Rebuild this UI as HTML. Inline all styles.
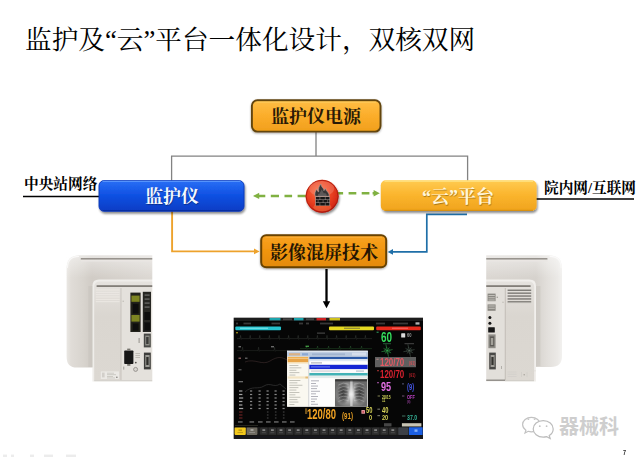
<!DOCTYPE html>
<html lang="zh"><head><meta charset="utf-8"><title>监护及“云”平台一体化设计，双核双网</title>
<style>
html,body{margin:0;padding:0;background:#fff;}
body{width:640px;height:457px;position:relative;overflow:hidden;font-family:"Liberation Sans",sans-serif;}
svg{position:absolute;left:0;top:0;display:block}
.t{position:absolute;color:#000;white-space:nowrap;margin:0;line-height:1;font-family:"Liberation Serif","Noto Serif CJK SC",serif;}
.n{font-family:"Liberation Sans",sans-serif;font-weight:bold;margin-top:.06em;transform:scaleX(.7);transform-origin:0 50%}
</style></head><body>
<svg width="640" height="457" viewBox="0 0 640 457">

<defs>
<linearGradient id="gOr" x1="0" y1="0" x2="0" y2="1">
 <stop offset="0" stop-color="#ffbe45"/><stop offset="0.5" stop-color="#fbad2a"/><stop offset="1" stop-color="#f19f1c"/>
</linearGradient>
<linearGradient id="gOr2" x1="0" y1="0" x2="0" y2="1">
 <stop offset="0" stop-color="#f9a322"/><stop offset="0.5" stop-color="#f0950f"/><stop offset="1" stop-color="#e38a08"/>
</linearGradient>
<linearGradient id="gBl" x1="0" y1="0" x2="0" y2="1">
 <stop offset="0" stop-color="#2a6ff5"/><stop offset="0.45" stop-color="#1152e4"/><stop offset="1" stop-color="#0a3cc4"/>
</linearGradient>
<linearGradient id="gYe" x1="0" y1="0" x2="0" y2="1">
 <stop offset="0" stop-color="#ffcb52"/><stop offset="0.45" stop-color="#fbb62f"/><stop offset="1" stop-color="#f0a31c"/>
</linearGradient>
<radialGradient id="gRed" cx="0.42" cy="0.36" r="0.68">
 <stop offset="0" stop-color="#fb7144"/><stop offset="0.5" stop-color="#ec4524"/><stop offset="0.85" stop-color="#d62a16"/><stop offset="1" stop-color="#a8160c"/>
</radialGradient>
<filter id="sh" x="-10%" y="-20%" width="120%" height="150%">
 <feGaussianBlur in="SourceAlpha" stdDeviation="1"/><feOffset dx="0.5" dy="1.5"/>
 <feComponentTransfer><feFuncA type="linear" slope="0.45"/></feComponentTransfer>
 <feMerge><feMergeNode/><feMergeNode in="SourceGraphic"/></feMerge>
</filter>
<filter id="sh2" x="-10%" y="-20%" width="120%" height="150%">
 <feGaussianBlur in="SourceAlpha" stdDeviation="0.8"/><feOffset dx="0.3" dy="0.8"/>
 <feComponentTransfer><feFuncA type="linear" slope="0.35"/></feComponentTransfer>
 <feMerge><feMergeNode/><feMergeNode in="SourceGraphic"/></feMerge>
</filter>
<filter id="tsh" x="-10%" y="-20%" width="120%" height="150%">
 <feGaussianBlur in="SourceAlpha" stdDeviation="0.6"/><feOffset dx="0.4" dy="0.6"/>
 <feComponentTransfer><feFuncA type="linear" slope="0.32"/></feComponentTransfer>
 <feMerge><feMergeNode/><feMergeNode in="SourceGraphic"/></feMerge>
</filter>
<filter id="blur1"><feGaussianBlur stdDeviation="0.6"/></filter>
<filter id="blur2"><feGaussianBlur stdDeviation="0.35"/></filter>
</defs>
<path d="M316 131V156.1M171.6 181V156.1H467.6V181" fill="none" stroke="#828282" stroke-width="1.3"/>
<path d="M23 196.5H100" stroke="#000" stroke-width="1.6"/>
<path d="M536 199H634" stroke="#000" stroke-width="1.6"/>
<path d="M172.1 211V251.4H255" fill="none" stroke="#eda22c" stroke-width="1.9"/>
<path d="M259.6 251.4L254 248.6V254.2Z" fill="#eda22c"/>
<path d="M467 214.4H426.8V251.9H393" fill="none" stroke="#1f6fa8" stroke-width="1.7"/>
<path d="M387.7 251.9L393 249.1V254.7Z" fill="#1f6fa8"/>
<path d="M257.5 195.9H265.3M270.8 195.9H279M284.5 195.9H292.1M297.6 195.9H306" fill="none" stroke="#80b142" stroke-width="2.5"/>
<path d="M253 195.9L259.2 192.7V199.1Z" fill="#80b142"/>
<path d="M337 193.3H343.1M348.6 193.3H356.3M361.7 193.3H369.4M372.6 193.3H375" fill="none" stroke="#80b142" stroke-width="2.5"/>
<path d="M379.8 193.3L373.6 190.1V196.5Z" fill="#80b142"/>
<rect x="251.9" y="100.3" width="128.6" height="31.299999999999997" rx="5.5" fill="url(#gOr)" stroke="#62440f" stroke-width="1.9" filter="url(#sh2)"/>
<rect x="99" y="180.6" width="145" height="30.700000000000017" rx="5" fill="url(#gBl)" stroke="#0b37b4" stroke-width="0.9" filter="url(#sh)"/>
<rect x="380.8" y="180.2" width="155.8" height="30.80000000000001" rx="5" fill="url(#gYe)" filter="url(#sh)"/>
<rect x="261.2" y="235.2" width="125.0" height="32.0" rx="5" fill="url(#gOr2)" stroke="#684206" stroke-width="2" filter="url(#sh2)"/>
<path d="M256.5 102.1H376" stroke="#ffd46a" stroke-width="1" opacity="0.8"/>
<path d="M265.5 237.2H382" stroke="#ffb94a" stroke-width="1" opacity="0.7"/>
<path d="M102.5 181.3H240.5" stroke="#5f9bff" stroke-width="1.3" opacity="0.85"/>
<path d="M102.5 210.5H240.5" stroke="#062a96" stroke-width="1.2" opacity="0.7"/>
<path d="M384.5 181.1H533" stroke="#ffe88e" stroke-width="1.3" opacity="0.9"/>
<path d="M384.5 210.3H533" stroke="#cf8a0c" stroke-width="1.2" opacity="0.7"/>
<path d="M326.5 269V302.5" stroke="#000" stroke-width="2.3"/>
<path d="M326.5 308.2L322.8 301.2H330.2Z" fill="#000"/>
<circle cx="322.1" cy="196.3" r="16.5" fill="url(#gRed)" filter="url(#sh)"/>
<circle cx="322.1" cy="196.3" r="16" fill="none" stroke="#a3150c" stroke-width="1" opacity="0.75"/>
<ellipse cx="321.6" cy="188.6" rx="12.6" ry="7.6" fill="#fff" opacity="0.16"/>
<ellipse cx="322.4" cy="207.2" rx="9" ry="4" fill="#ff9a5a" opacity="0.35" filter="url(#blur1)"/>
<g filter="url(#blur2)">
<path d="M315.2 196.3C314.5 193.6 315.1 191.3 316.9 188.9C317 190.6 317.6 191.7 318.7 191.7C318.1 188.6 319.1 186 320.9 184.1C321 186 322.2 187.2 323.2 188.4C323.8 189.2 324 189.8 323.9 190.7C324.3 189.7 324.9 189 325.7 188.5C325.6 190.2 326.8 191 327.8 192.2C328.9 193.4 329.3 194.8 329.1 196.3Z" fill="#393636" stroke="#aaa4a2" stroke-width="0.6" stroke-linejoin="round"/>
<path d="M318.2 196C317.6 194.4 318.4 193.2 319.6 193.8C319.8 192 321.2 191 321.6 189.4C322.6 191 323.6 192.2 323.8 193.6C324.4 193 325.2 193 325.8 193.6C326.6 194.4 326.8 195.2 326.6 196Z" fill="#777272" opacity="0.6"/>
<rect x="315.3" y="196.3" width="14.6" height="9.4" fill="#a89c98"/>
<path d="M315.9 196.9H319.7V199.4H315.9ZM320.2 196.9H324.9V199.4H320.2ZM325.4 196.9H329.4V199.4H325.4ZM315.9 203.0H319.7V205.5H315.9ZM320.2 203.0H324.9V205.5H320.2ZM325.4 203.0H329.4V205.5H325.4ZM315.9 199.95H317.8V202.45H315.9ZM318.3 199.95H322.8V202.45H318.3ZM323.3 199.95H327.6V202.45H323.3ZM328.1 199.95H329.4V202.45H328.1Z" fill="#141212"/>
</g>
<g id="screen">
<rect x="233.7" y="317.7" width="189.3" height="121.2" fill="#060606"/>
<g filter="url(#blur2)">
<rect x="234.0" y="318.0" width="189.0" height="3.2" fill="#1a1a1a"/>
<rect x="269.5" y="318.0" width="11.0" height="2.4" fill="#1fa4ac"/>
<rect x="294.0" y="318.0" width="9.5" height="2.4" fill="#1fa4ac"/>
<rect x="316.5" y="318.0" width="9.5" height="2.4" fill="#cc2424"/>
<rect x="329.5" y="318.0" width="10.5" height="2.4" fill="#cfc11e"/>
<rect x="283.0" y="318.3" width="9.0" height="1.9" fill="#444"/>
<rect x="306.0" y="318.3" width="8.0" height="1.9" fill="#444"/>
<rect x="236.0" y="322.6" width="2.0" height="1.8" fill="#8a8a8a" opacity="0.38"/>
<rect x="243.5" y="322.6" width="7.5" height="1.8" fill="#8a8a8a" opacity="0.38"/>
<rect x="271.5" y="322.6" width="8.5" height="1.8" fill="#8a8a8a" opacity="0.38"/>
<rect x="299.0" y="322.6" width="4.0" height="1.8" fill="#8a8a8a" opacity="0.38"/>
<rect x="306.0" y="322.6" width="3.0" height="1.8" fill="#8a8a8a" opacity="0.38"/>
<rect x="320.0" y="322.6" width="13.0" height="1.8" fill="#8a8a8a" opacity="0.38"/>
<rect x="376.0" y="322.6" width="9.0" height="1.8" fill="#8a8a8a" opacity="0.38"/>
<rect x="393.0" y="322.6" width="15.0" height="1.8" fill="#8a8a8a" opacity="0.38"/>
<rect x="415.5" y="322.3" width="4.0" height="2.3" fill="#ddd" opacity="0.8"/>
<rect x="235.3" y="326.4" width="45.7" height="3.8" fill="#27c3cf" rx="1"/>
<rect x="329.0" y="326.4" width="45.0" height="3.8" fill="#e6da22" rx="1"/>
<rect x="376.2" y="326.4" width="44.6" height="3.8" fill="#e42a1c" rx="1"/>
<rect x="240.0" y="327.6" width="28.0" height="1.4" fill="#bff" opacity="0.45"/>
<rect x="344.0" y="327.6" width="16.0" height="1.4" fill="#664" opacity="0.6"/>
<rect x="392.0" y="327.6" width="16.0" height="1.4" fill="#f88" opacity="0.5"/>
<path d="M237.0 338.6L240.0 338.6L240.6 335.4L241.2 339.4L241.8 338.6L249.6 338.6L250.2 335.4L250.8 339.4L251.4 338.6L259.2 338.6L259.8 335.4L260.4 339.4L261.0 338.6L268.8 338.6L269.4 335.4L270.0 339.4L270.6 338.6L278.4 338.6L279.0 335.4L279.6 339.4L280.2 338.6L288.0 338.6L288.6 335.4L289.2 339.4L289.8 338.6L297.6 338.6L298.2 335.4L298.8 339.4L299.4 338.6L307.2 338.6L307.8 335.4L308.4 339.4L309.0 338.6L316.8 338.6L317.4 335.4L318.0 339.4L318.6 338.6L326.4 338.6L327.0 335.4L327.6 339.4L328.2 338.6L336.0 338.6L336.6 335.4L337.2 339.4L337.8 338.6L345.6 338.6L346.2 335.4L346.8 339.4L347.4 338.6L355.2 338.6L355.8 335.4L356.4 339.4L357.0 338.6L364.8 338.6L365.4 335.4L366.0 339.4L366.6 338.6L372.0 338.6" fill="none" stroke="#7d8a80" stroke-width="0.5" opacity="0.36"/>
<path d="M237.0 350.6L242.0 350.6L242.6 347.2L243.2 351.4L243.8 350.6L258.0 350.6L258.6 347.2L259.2 351.4L259.8 350.6L274.0 350.6L274.6 347.2L275.2 351.4L275.8 350.6L288.0 350.6" fill="none" stroke="#7d8a80" stroke-width="0.5" opacity="0.3"/>
<path d="M300.0 348.6L306.0 348.6L306.6 346.0L307.2 349.4L307.8 348.6L317.0 348.6L317.6 346.0L318.2 349.4L318.8 348.6L328.0 348.6L328.6 346.0L329.2 349.4L329.8 348.6L339.0 348.6L339.6 346.0L340.2 349.4L340.8 348.6L350.0 348.6L350.6 346.0L351.2 349.4L351.8 348.6L361.0 348.6L361.6 346.0L362.2 349.4L362.8 348.6L372.0 348.6" fill="none" stroke="#4fae58" stroke-width="0.5" opacity="0.42"/>
<rect x="236.0" y="332.0" width="2.0" height="1.4" fill="#c9b020" opacity="0.7"/>
<rect x="317.0" y="332.6" width="8.0" height="1.0" fill="#999" opacity="0.5"/>
<rect x="238.5" y="346.0" width="2.5" height="1.4" fill="#aaa" opacity="0.6"/>
<rect x="271.0" y="346.0" width="3.0" height="1.4" fill="#aaa" opacity="0.6"/>
<rect x="305.5" y="345.6" width="3.5" height="1.4" fill="#5c5" opacity="0.7"/>
<rect x="238.5" y="357.5" width="2.5" height="1.5" fill="#c88" opacity="0.6"/>
<rect x="245.0" y="357.5" width="2.5" height="1.5" fill="#aaa" opacity="0.5"/>
<rect x="238.5" y="369.0" width="3.0" height="1.4" fill="#999" opacity="0.5"/>
<path d="M245 362C255 358 262 366 270 361S282 357 287 360" fill="none" stroke="#5a4040" stroke-width="0.6" opacity="0.7"/>
<path d="M245 392C252 385 258 390 264 386S274 388 280 384L286 389" fill="none" stroke="#444" stroke-width="0.7" opacity="0.8"/>
<rect x="238.5" y="381.0" width="4.5" height="1.3" fill="#aaa" opacity="0.6"/>
<rect x="239.0" y="390.4" width="3.4" height="1.2" fill="#d8d8d8" opacity="0.75"/>
<rect x="250.0" y="390.4" width="2.2" height="1.2" fill="#d8d8d8" opacity="0.62"/>
<rect x="258.5" y="390.4" width="2.2" height="1.2" fill="#d8d8d8" opacity="0.62"/>
<rect x="266.5" y="390.4" width="2.2" height="1.2" fill="#d8d8d8" opacity="0.62"/>
<rect x="274.5" y="390.4" width="2.2" height="1.2" fill="#d8d8d8" opacity="0.62"/>
<rect x="282.5" y="390.4" width="2.2" height="1.2" fill="#d8d8d8" opacity="0.62"/>
<rect x="239.0" y="393.9" width="3.4" height="1.2" fill="#d8d8d8" opacity="0.75"/>
<rect x="250.0" y="393.9" width="2.2" height="1.2" fill="#d8d8d8" opacity="0.62"/>
<rect x="258.5" y="393.9" width="2.2" height="1.2" fill="#d8d8d8" opacity="0.62"/>
<rect x="266.5" y="393.9" width="2.2" height="1.2" fill="#d8d8d8" opacity="0.62"/>
<rect x="274.5" y="393.9" width="2.2" height="1.2" fill="#d8d8d8" opacity="0.62"/>
<rect x="282.5" y="393.9" width="2.2" height="1.2" fill="#d8d8d8" opacity="0.62"/>
<rect x="239.0" y="397.4" width="4.2" height="1.2" fill="#d8d8d8" opacity="0.75"/>
<rect x="250.0" y="397.4" width="2.2" height="1.2" fill="#d8d8d8" opacity="0.62"/>
<rect x="258.5" y="397.4" width="2.2" height="1.2" fill="#d8d8d8" opacity="0.62"/>
<rect x="266.5" y="397.4" width="2.2" height="1.2" fill="#d8d8d8" opacity="0.62"/>
<rect x="274.5" y="397.4" width="2.2" height="1.2" fill="#d8d8d8" opacity="0.62"/>
<rect x="282.5" y="397.4" width="2.2" height="1.2" fill="#d8d8d8" opacity="0.62"/>
<rect x="239.0" y="400.9" width="3.4" height="1.2" fill="#d8d8d8" opacity="0.75"/>
<rect x="250.0" y="400.9" width="2.2" height="1.2" fill="#d8d8d8" opacity="0.62"/>
<rect x="258.5" y="400.9" width="2.2" height="1.2" fill="#d8d8d8" opacity="0.62"/>
<rect x="266.5" y="400.9" width="2.2" height="1.2" fill="#d8d8d8" opacity="0.62"/>
<rect x="274.5" y="400.9" width="2.2" height="1.2" fill="#d8d8d8" opacity="0.62"/>
<rect x="282.5" y="400.9" width="2.2" height="1.2" fill="#d8d8d8" opacity="0.62"/>
<rect x="239.0" y="404.4" width="3.4" height="1.2" fill="#d8d8d8" opacity="0.75"/>
<rect x="250.0" y="404.4" width="2.2" height="1.2" fill="#d8d8d8" opacity="0.62"/>
<rect x="258.5" y="404.4" width="2.2" height="1.2" fill="#d8d8d8" opacity="0.62"/>
<rect x="266.5" y="404.4" width="2.2" height="1.2" fill="#d8d8d8" opacity="0.62"/>
<rect x="274.5" y="404.4" width="2.2" height="1.2" fill="#d8d8d8" opacity="0.62"/>
<rect x="282.5" y="404.4" width="2.2" height="1.2" fill="#d8d8d8" opacity="0.62"/>
<rect x="239.0" y="407.9" width="4.2" height="1.2" fill="#d8d8d8" opacity="0.75"/>
<rect x="250.0" y="407.9" width="2.2" height="1.2" fill="#d8d8d8" opacity="0.62"/>
<rect x="258.5" y="407.9" width="2.2" height="1.2" fill="#d8d8d8" opacity="0.62"/>
<rect x="266.5" y="407.9" width="2.2" height="1.2" fill="#d8d8d8" opacity="0.62"/>
<rect x="274.5" y="407.9" width="2.2" height="1.2" fill="#d8d8d8" opacity="0.62"/>
<rect x="282.5" y="407.9" width="2.2" height="1.2" fill="#d8d8d8" opacity="0.62"/>
<rect x="239.0" y="411.5" width="3.5" height="1.0" fill="#a33" opacity="0.7"/>
<rect x="266.9" y="411.5" width="1.6" height="1.0" fill="#aaa" opacity="0.4"/>
<rect x="274.9" y="411.5" width="1.6" height="1.0" fill="#aaa" opacity="0.4"/>
<rect x="282.9" y="411.5" width="1.6" height="1.0" fill="#aaa" opacity="0.4"/>
<rect x="239.0" y="414.5" width="3.5" height="1.0" fill="#a33" opacity="0.7"/>
<rect x="266.9" y="414.5" width="1.6" height="1.0" fill="#aaa" opacity="0.4"/>
<rect x="274.9" y="414.5" width="1.6" height="1.0" fill="#aaa" opacity="0.4"/>
<rect x="282.9" y="414.5" width="1.6" height="1.0" fill="#aaa" opacity="0.4"/>
<rect x="239.0" y="417.5" width="3.5" height="1.0" fill="#a33" opacity="0.7"/>
<rect x="266.9" y="417.5" width="1.6" height="1.0" fill="#aaa" opacity="0.4"/>
<rect x="274.9" y="417.5" width="1.6" height="1.0" fill="#aaa" opacity="0.4"/>
<rect x="282.9" y="417.5" width="1.6" height="1.0" fill="#aaa" opacity="0.4"/>
<rect x="238.0" y="421.3" width="4.6" height="1.3" fill="#bbb" opacity="0.6"/>
<rect x="249.5" y="421.3" width="4.6" height="1.3" fill="#bbb" opacity="0.6"/>
<rect x="258.0" y="421.3" width="4.6" height="1.3" fill="#bbb" opacity="0.6"/>
<rect x="266.0" y="421.3" width="4.6" height="1.3" fill="#bbb" opacity="0.6"/>
<rect x="274.0" y="421.3" width="4.6" height="1.3" fill="#bbb" opacity="0.6"/>
<rect x="282.0" y="421.3" width="4.6" height="1.3" fill="#bbb" opacity="0.6"/>
<rect x="290.0" y="421.3" width="4.6" height="1.3" fill="#bbb" opacity="0.6"/>
<rect x="235.0" y="425.4" width="23.0" height="0.5" fill="#554" opacity="0.8"/>
<rect x="401.2" y="333.2" width="4.0" height="4.4" fill="#e8e8e8" opacity="0.95" rx="0.6"/>
<rect x="376.6" y="331.6" width="2.0" height="1.4" fill="#3a6" opacity="0.7"/>
<path d="M387.2 350.6L385.9 344.3M387.2 350.6L383.5 348.3M387.2 350.6L381.4 351.7M387.2 350.6L385.1 353.6M387.2 350.6L388.5 356.7M387.2 350.6L391.1 353.0M387.2 350.6L392.6 349.6M387.2 350.6L389.4 347.4" fill="none" stroke="#3cc85a" stroke-width="0.55" opacity="0.85"/>
<path d="M386.5 347.2L385.3 349.3L384.2 351.2L386.1 352.3L387.9 353.9L389.2 351.9L390.0 350.0L388.4 348.9Z" fill="none" stroke="#3cc85a" stroke-width="0.4" opacity="0.595"/>
<path d="M409.2 350.6L407.9 344.3M409.2 350.6L405.5 348.3M409.2 350.6L403.4 351.7M409.2 350.6L407.1 353.6M409.2 350.6L410.5 356.7M409.2 350.6L413.1 353.0M409.2 350.6L414.6 349.6M409.2 350.6L411.4 347.4" fill="none" stroke="#7a9a86" stroke-width="0.55" opacity="0.6"/>
<path d="M408.5 347.2L407.3 349.3L406.2 351.2L408.1 352.3L409.9 353.9L411.2 351.9L412.0 350.0L410.4 348.9Z" fill="none" stroke="#7a9a86" stroke-width="0.4" opacity="0.42"/>
<rect x="383.0" y="343.2" width="8.0" height="1.0" fill="#4a6" opacity="0.5"/>
<rect x="404.5" y="343.2" width="9.5" height="1.0" fill="#888" opacity="0.5"/>
<rect x="375.0" y="357.0" width="41.0" height="10.2" fill="#5e5e5e"/>
<rect x="376.4" y="358.6" width="2.2" height="1.4" fill="#b88" opacity="0.7"/>
<rect x="377.0" y="370.0" width="2.0" height="1.3" fill="#a33" opacity="0.8"/>
<rect x="377.0" y="382.0" width="2.0" height="1.3" fill="#a5a" opacity="0.8"/>
<rect x="402.0" y="383.2" width="2.0" height="1.3" fill="#557" opacity="0.8"/>
<rect x="377.6" y="395.4" width="2.4" height="1.2" fill="#885" opacity="0.8"/>
<rect x="402.0" y="395.4" width="2.4" height="1.2" fill="#757" opacity="0.8"/>
<rect x="305.0" y="408.4" width="2.2" height="5.6" fill="#8a6420" opacity="0.8"/>
<rect x="361.4" y="410.0" width="3.6" height="3.8" fill="#f0a0a8" opacity="0.95" rx="0.5"/>
<rect x="362.5" y="411.1" width="1.4" height="1.6" fill="#c03040" opacity="0.9"/>
<rect x="377.4" y="408.6" width="2.6" height="1.2" fill="#887" opacity="0.8"/>
<rect x="377.4" y="415.0" width="2.6" height="1.2" fill="#887" opacity="0.8"/>
<rect x="402.0" y="415.4" width="3.4" height="1.2" fill="#476" opacity="0.8"/>
<rect x="384.0" y="423.2" width="7.5" height="3.2" fill="#555" opacity="0.8"/>
<rect x="234.0" y="427.0" width="189.0" height="8.4" fill="#1c1c1c"/>
<rect x="234.6" y="427.6" width="11.2" height="7.3" fill="#f2c81e" rx="0.8"/>
<rect x="238.5" y="429.6" width="3.5" height="1.0" fill="#7a5a00" opacity="0.7"/>
<rect x="237.5" y="432.2" width="5.5" height="0.8" fill="#7a5a00" opacity="0.5"/>
<rect x="246.6" y="427.6" width="10.8" height="7.3" fill="#6e6a60" rx="0.8"/>
<rect x="250.5" y="429.4" width="3.0" height="1.2" fill="#ddd" opacity="0.8"/>
<rect x="249.2" y="432.2" width="5.8" height="0.8" fill="#bbb" opacity="0.5"/>
<rect x="260.0" y="427.8" width="7.6" height="7.0" fill="#2e2e2e" rx="0.6"/>
<rect x="262.4" y="429.4" width="2.8" height="1.4" fill="#e8e8e8" opacity="0.6"/>
<rect x="261.8" y="432.4" width="4.0" height="0.7" fill="#999" opacity="0.35"/>
<rect x="268.6" y="427.8" width="7.6" height="7.0" fill="#2e2e2e" rx="0.6"/>
<rect x="271.0" y="429.4" width="2.8" height="1.4" fill="#e8e8e8" opacity="0.6"/>
<rect x="270.4" y="432.4" width="4.0" height="0.7" fill="#999" opacity="0.35"/>
<rect x="277.2" y="427.8" width="7.6" height="7.0" fill="#2e2e2e" rx="0.6"/>
<rect x="279.6" y="429.4" width="2.8" height="1.4" fill="#e8e8e8" opacity="0.6"/>
<rect x="279.0" y="432.4" width="4.0" height="0.7" fill="#999" opacity="0.35"/>
<rect x="285.8" y="427.8" width="7.6" height="7.0" fill="#2e2e2e" rx="0.6"/>
<rect x="288.2" y="429.4" width="2.8" height="1.4" fill="#e8e8e8" opacity="0.6"/>
<rect x="287.6" y="432.4" width="4.0" height="0.7" fill="#999" opacity="0.35"/>
<rect x="294.4" y="427.8" width="7.6" height="7.0" fill="#2e2e2e" rx="0.6"/>
<rect x="296.8" y="429.4" width="2.8" height="1.4" fill="#e8e8e8" opacity="0.6"/>
<rect x="296.2" y="432.4" width="4.0" height="0.7" fill="#999" opacity="0.35"/>
<rect x="303.0" y="427.8" width="7.6" height="7.0" fill="#2e2e2e" rx="0.6"/>
<rect x="305.4" y="429.4" width="2.8" height="1.4" fill="#e8e8e8" opacity="0.6"/>
<rect x="304.8" y="432.4" width="4.0" height="0.7" fill="#999" opacity="0.35"/>
<rect x="311.6" y="427.8" width="7.6" height="7.0" fill="#2e2e2e" rx="0.6"/>
<rect x="314.0" y="429.4" width="2.8" height="1.4" fill="#e8e8e8" opacity="0.6"/>
<rect x="313.4" y="432.4" width="4.0" height="0.7" fill="#999" opacity="0.35"/>
<rect x="320.2" y="427.8" width="7.6" height="7.0" fill="#2e2e2e" rx="0.6"/>
<rect x="322.6" y="429.4" width="2.8" height="1.4" fill="#e8e8e8" opacity="0.6"/>
<rect x="322.0" y="432.4" width="4.0" height="0.7" fill="#999" opacity="0.35"/>
<rect x="328.8" y="427.8" width="7.6" height="7.0" fill="#2e2e2e" rx="0.6"/>
<rect x="331.2" y="429.4" width="2.8" height="1.4" fill="#e8e8e8" opacity="0.6"/>
<rect x="330.6" y="432.4" width="4.0" height="0.7" fill="#999" opacity="0.35"/>
<rect x="337.4" y="427.8" width="7.6" height="7.0" fill="#2e2e2e" rx="0.6"/>
<rect x="339.8" y="429.4" width="2.8" height="1.4" fill="#e8e8e8" opacity="0.6"/>
<rect x="339.2" y="432.4" width="4.0" height="0.7" fill="#999" opacity="0.35"/>
<rect x="346.0" y="427.8" width="7.6" height="7.0" fill="#2e2e2e" rx="0.6"/>
<rect x="348.4" y="429.4" width="2.8" height="1.4" fill="#e8e8e8" opacity="0.6"/>
<rect x="347.8" y="432.4" width="4.0" height="0.7" fill="#999" opacity="0.35"/>
<rect x="354.6" y="427.8" width="7.6" height="7.0" fill="#2e2e2e" rx="0.6"/>
<rect x="357.0" y="429.4" width="2.8" height="1.4" fill="#e8e8e8" opacity="0.6"/>
<rect x="356.4" y="432.4" width="4.0" height="0.7" fill="#999" opacity="0.35"/>
<rect x="363.2" y="427.8" width="7.6" height="7.0" fill="#2e2e2e" rx="0.6"/>
<rect x="365.6" y="429.4" width="2.8" height="1.4" fill="#e8e8e8" opacity="0.6"/>
<rect x="365.0" y="432.4" width="4.0" height="0.7" fill="#999" opacity="0.35"/>
<rect x="371.8" y="427.8" width="7.6" height="7.0" fill="#2e2e2e" rx="0.6"/>
<rect x="374.2" y="429.4" width="2.8" height="1.4" fill="#e8e8e8" opacity="0.6"/>
<rect x="373.6" y="432.4" width="4.0" height="0.7" fill="#999" opacity="0.35"/>
<rect x="380.4" y="427.8" width="7.6" height="7.0" fill="#2e2e2e" rx="0.6"/>
<rect x="382.8" y="429.4" width="2.8" height="1.4" fill="#e8e8e8" opacity="0.6"/>
<rect x="382.2" y="432.4" width="4.0" height="0.7" fill="#999" opacity="0.35"/>
<rect x="389.0" y="427.8" width="7.6" height="7.0" fill="#2e2e2e" rx="0.6"/>
<rect x="391.4" y="429.4" width="2.8" height="1.4" fill="#e8e8e8" opacity="0.6"/>
<rect x="390.8" y="432.4" width="4.0" height="0.7" fill="#999" opacity="0.35"/>
<rect x="397.6" y="427.8" width="7.6" height="7.0" fill="#2e2e2e" rx="0.6"/>
<rect x="400.0" y="429.4" width="2.8" height="1.4" fill="#e8e8e8" opacity="0.6"/>
<rect x="399.4" y="432.4" width="4.0" height="0.7" fill="#999" opacity="0.35"/>
<rect x="401.9" y="423.2" width="19.5" height="3.3" fill="#d8d4c2" opacity="0.92"/>
<rect x="398.5" y="427.6" width="9.7" height="7.3" fill="#3c4046" rx="0.6"/>
<rect x="408.9" y="427.2" width="13.7" height="7.8" fill="#1f5fe2" rx="0.6"/>
<rect x="414.5" y="429.4" width="3.0" height="2.4" fill="#9cc4ff" opacity="0.8"/>
<rect x="234.0" y="435.2" width="189.0" height="3.6" fill="#17181c"/>
</g>
<g filter="url(#blur2)">
<rect x="287.0" y="350.8" width="80.8" height="56.0" fill="#f4f4f0"/>
<rect x="287.0" y="350.8" width="80.8" height="5.8" fill="#b9c9de"/>
<rect x="287.0" y="350.8" width="80.8" height="1.4" fill="#dfe6ee"/>
<rect x="289.0" y="353.2" width="11.0" height="2.2" fill="#e8a860" opacity="0.7"/>
<rect x="302.0" y="353.2" width="6.0" height="2.2" fill="#7fa0d0" opacity="0.8"/>
<rect x="312.0" y="353.4" width="33.0" height="1.8" fill="#8aa0c0" opacity="0.5"/>
<rect x="352.0" y="352.6" width="14.0" height="3.0" fill="#d8e0ec" opacity="0.9"/>
<rect x="287.6" y="356.8" width="20.8" height="49.6" fill="#faf8f0"/>
<rect x="287.6" y="356.8" width="20.8" height="1.8" fill="#f0b050"/>
<rect x="287.6" y="358.8" width="20.8" height="3.4" fill="#e8a446"/>
<rect x="287.6" y="362.4" width="20.8" height="1.0" fill="#f6d8a0"/>
<rect x="289.4" y="365.0" width="9.0" height="0.9" fill="#8c8c84" opacity="0.55"/>
<rect x="289.4" y="367.4" width="12.0" height="0.9" fill="#8c8c84" opacity="0.55"/>
<rect x="289.4" y="369.8" width="7.0" height="0.9" fill="#8c8c84" opacity="0.55"/>
<rect x="289.4" y="372.2" width="10.0" height="0.9" fill="#8c8c84" opacity="0.55"/>
<rect x="289.4" y="374.6" width="6.0" height="0.9" fill="#8c8c84" opacity="0.55"/>
<rect x="289.4" y="380.0" width="11.0" height="0.9" fill="#8c8c84" opacity="0.55"/>
<rect x="289.4" y="382.4" width="8.0" height="0.9" fill="#8c8c84" opacity="0.55"/>
<rect x="289.4" y="384.8" width="13.0" height="0.9" fill="#8c8c84" opacity="0.55"/>
<rect x="289.4" y="387.2" width="9.0" height="0.9" fill="#8c8c84" opacity="0.55"/>
<rect x="289.4" y="389.6" width="7.0" height="0.9" fill="#8c8c84" opacity="0.55"/>
<rect x="289.4" y="392.0" width="10.0" height="0.9" fill="#8c8c84" opacity="0.55"/>
<rect x="289.4" y="394.4" width="6.0" height="0.9" fill="#8c8c84" opacity="0.55"/>
<rect x="289.4" y="396.8" width="11.0" height="0.9" fill="#8c8c84" opacity="0.55"/>
<rect x="289.4" y="399.2" width="8.0" height="0.9" fill="#8c8c84" opacity="0.55"/>
<rect x="289.4" y="401.6" width="9.0" height="0.9" fill="#8c8c84" opacity="0.55"/>
<rect x="289.4" y="404.0" width="5.0" height="0.9" fill="#8c8c84" opacity="0.55"/>
<rect x="287.6" y="376.4" width="20.8" height="2.2" fill="#f3e4c4"/>
<rect x="305.4" y="376.6" width="2.6" height="1.8" fill="#e0b060" opacity="0.8"/>
<rect x="308.4" y="356.8" width="1.0" height="49.6" fill="#c8ccd0"/>
<rect x="309.4" y="356.8" width="58.2" height="2.4" fill="#2c58a6"/>
<rect x="309.4" y="359.4" width="58.2" height="1.8" fill="#dfe8f4"/>
<rect x="309.4" y="361.4" width="58.2" height="3.2" fill="#ffffff"/>
<rect x="311.0" y="362.4" width="11.0" height="1.0" fill="#667" opacity="0.6"/>
<rect x="309.4" y="364.8" width="58.2" height="4.4" fill="#1428d4"/>
<rect x="311.0" y="366.4" width="19.0" height="1.0" fill="#aab8ff" opacity="0.6"/>
<rect x="309.4" y="369.4" width="58.2" height="3.4" fill="#fbfbfb"/>
<rect x="311.0" y="370.6" width="29.0" height="0.9" fill="#889" opacity="0.5"/>
<rect x="356.0" y="370.4" width="8.0" height="1.4" fill="#9ab" opacity="0.6"/>
<rect x="309.4" y="373.0" width="58.2" height="2.6" fill="#43b2b6"/>
<rect x="309.4" y="375.8" width="58.2" height="2.2" fill="#e4ecec"/>
<rect x="309.4" y="378.2" width="25.2" height="28.2" fill="#fdfdfd"/>
<rect x="311.0" y="380.4" width="8.0" height="0.9" fill="#667" opacity="0.55"/>
<rect x="311.0" y="383.0" width="5.0" height="0.9" fill="#667" opacity="0.55"/>
<rect x="311.0" y="385.6" width="7.0" height="0.9" fill="#667" opacity="0.55"/>
<rect x="311.0" y="388.2" width="6.0" height="0.9" fill="#667" opacity="0.55"/>
<rect x="311.0" y="390.8" width="9.0" height="0.9" fill="#667" opacity="0.55"/>
<rect x="311.0" y="393.4" width="5.0" height="0.9" fill="#667" opacity="0.55"/>
<rect x="311.0" y="396.0" width="7.0" height="0.9" fill="#667" opacity="0.55"/>
<rect x="311.0" y="398.6" width="6.0" height="0.9" fill="#667" opacity="0.55"/>
<rect x="311.0" y="401.2" width="4.0" height="0.9" fill="#667" opacity="0.55"/>
<rect x="311.0" y="403.8" width="7.0" height="0.9" fill="#667" opacity="0.55"/>
<rect x="335.2" y="379.4" width="31.8" height="27.0" fill="#3a3a3a"/>
<defs><radialGradient id="xr" cx="0.5" cy="0.55" r="0.55"><stop offset="0" stop-color="#ececec"/><stop offset="0.4" stop-color="#b0b0b0"/><stop offset="1" stop-color="#6a6a6a"/></radialGradient><radialGradient id="lung" cx="0.5" cy="0.5" r="0.5"><stop offset="0" stop-color="#1a1a1a" stop-opacity="0.8"/><stop offset="0.6" stop-color="#2a2a2a" stop-opacity="0.55"/><stop offset="1" stop-color="#444" stop-opacity="0"/></radialGradient></defs>
<rect x="335.2" y="379.4" width="31.8" height="27.0" fill="url(#xr)"/>
<ellipse cx="343.2" cy="393" rx="6.4" ry="11.6" fill="url(#lung)"/>
<ellipse cx="359.6" cy="393" rx="6.4" ry="11.6" fill="url(#lung)"/>
<path d="M338.4 385.0Q343 381.6 348.6 384.2" fill="none" stroke="#ddd" stroke-width="0.6" opacity="0.55"/>
<path d="M354 384.2Q359.6 381.6 364.2 385.0" fill="none" stroke="#ddd" stroke-width="0.6" opacity="0.55"/>
<path d="M338.4 388.3Q343 384.9 348.6 387.5" fill="none" stroke="#ddd" stroke-width="0.6" opacity="0.55"/>
<path d="M354 387.5Q359.6 384.9 364.2 388.3" fill="none" stroke="#ddd" stroke-width="0.6" opacity="0.55"/>
<path d="M338.4 391.6Q343 388.2 348.6 390.8" fill="none" stroke="#ddd" stroke-width="0.6" opacity="0.55"/>
<path d="M354 390.8Q359.6 388.2 364.2 391.6" fill="none" stroke="#ddd" stroke-width="0.6" opacity="0.55"/>
<path d="M338.4 394.9Q343 391.5 348.6 394.1" fill="none" stroke="#ddd" stroke-width="0.6" opacity="0.55"/>
<path d="M354 394.1Q359.6 391.5 364.2 394.9" fill="none" stroke="#ddd" stroke-width="0.6" opacity="0.55"/>
<path d="M338.4 398.2Q343 394.8 348.6 397.4" fill="none" stroke="#ddd" stroke-width="0.6" opacity="0.55"/>
<path d="M354 397.4Q359.6 394.8 364.2 398.2" fill="none" stroke="#ddd" stroke-width="0.6" opacity="0.55"/>
<path d="M338.4 401.5Q343 398.1 348.6 400.7" fill="none" stroke="#ddd" stroke-width="0.6" opacity="0.55"/>
<path d="M354 400.7Q359.6 398.1 364.2 401.5" fill="none" stroke="#ddd" stroke-width="0.6" opacity="0.55"/>
<rect x="350.2" y="380.0" width="2.4" height="26.0" fill="#f2f2f2" opacity="0.55"/>
<rect x="335.2" y="379.4" width="31.8" height="2.0" fill="#2a2a2a" opacity="0.75"/>
</g>
</g><defs>
<linearGradient id="dvL" x1="66" y1="0" x2="152" y2="0" gradientUnits="userSpaceOnUse"><stop offset="0" stop-color="#ebe9e5"/><stop offset="0.06" stop-color="#e0dcd7"/><stop offset="0.2" stop-color="#d8d4ce"/><stop offset="0.3" stop-color="#d1ccc6"/><stop offset="1" stop-color="#dcd8d3"/></linearGradient>
<linearGradient id="dvR" x1="486" y1="0" x2="562" y2="0" gradientUnits="userSpaceOnUse"><stop offset="0" stop-color="#dbd7d2"/><stop offset="0.66" stop-color="#d6d2cd"/><stop offset="0.8" stop-color="#e2dfdb"/><stop offset="0.94" stop-color="#ebe9e6"/><stop offset="1" stop-color="#f2f1ef"/></linearGradient>
<linearGradient id="dvI" x1="0" y1="0" x2="0" y2="1"><stop offset="0" stop-color="#e5e2de"/><stop offset="0.35" stop-color="#dad6d0"/><stop offset="1" stop-color="#dcd8d2"/></linearGradient>
<linearGradient id="dvTop" x1="0" y1="0" x2="0" y2="1"><stop offset="0" stop-color="#fff" stop-opacity="0.45"/><stop offset="1" stop-color="#fff" stop-opacity="0"/></linearGradient>
<clipPath id="clL"><rect x="60" y="250" width="92.3" height="140"/></clipPath>
<clipPath id="clR"><rect x="486.2" y="250" width="90" height="140"/></clipPath>
</defs>
<g clip-path="url(#clL)"><g filter="url(#blur2)">
<path d="M160 255.6H79Q66.6 255.6 66.6 268V357Q66.6 367.6 77 367.6H160Z" fill="url(#dvL)"/>
<path d="M67.4 268Q67.4 256.4 79 256.4" fill="none" stroke="#f6f5f3" stroke-width="1.2"/>
<rect x="66" y="255.6" width="94" height="22" fill="url(#dvTop)"/>
<rect x="80.8" y="258.1" width="79.2" height="1.6" fill="#8f8b85"/>
<rect x="80.8" y="259.7" width="79.2" height="1.9" fill="#eae7e3" opacity="0.9"/>
<path d="M160 279.6H99Q92.4 279.6 92.4 286V381.6H160Z" fill="#efedea"/>
<path d="M160 281.4H100Q94.2 281.4 94.2 287V380.6H160Z" fill="url(#dvI)"/>
<rect x="88.4" y="286.0" width="4.0" height="81.0" fill="#c6c1bb" opacity="0.5"/>
<rect x="96.6" y="285.2" width="63.4" height="1.8" fill="#827e78"/>
<rect x="95.8" y="289.4" width="23.8" height="1.1" fill="#ebe8e3" opacity="0.95"/>
<rect x="95.8" y="291.8" width="23.8" height="1.1" fill="#ebe8e3" opacity="0.95"/>
<rect x="95.8" y="294.1" width="23.8" height="1.1" fill="#ebe8e3" opacity="0.95"/>
<rect x="95.8" y="296.4" width="23.8" height="1.1" fill="#ebe8e3" opacity="0.95"/>
<rect x="95.8" y="298.8" width="23.8" height="1.1" fill="#ebe8e3" opacity="0.95"/>
<rect x="95.8" y="301.1" width="23.8" height="1.1" fill="#ebe8e3" opacity="0.95"/>
<rect x="120.6" y="288.0" width="1.0" height="92.6" fill="#c4bfb8"/>
<rect x="121.6" y="288.0" width="38.4" height="92.6" fill="#e4e1dc"/>
<rect x="122.6" y="300.6" width="1.2" height="1.4" fill="#bdb9b2" opacity="0.9"/>
<rect x="130.4" y="292.6" width="10.2" height="39.4" fill="#23221a"/>
<rect x="131.4" y="295.6" width="8.2" height="6.2" fill="#7d8420"/>
<rect x="132.6" y="303.6" width="6.0" height="10.0" fill="#11110c"/>
<rect x="131.4" y="315.0" width="8.2" height="6.6" fill="#7d8420"/>
<rect x="132.6" y="323.2" width="6.0" height="7.4" fill="#11110c"/>
<rect x="142.8" y="291.8" width="8.2" height="40.2" fill="#262624"/>
<rect x="144.6" y="294.4" width="5.0" height="1.4" fill="#6e6e68" opacity="0.9"/>
<rect x="144.6" y="298.4" width="5.0" height="1.4" fill="#6e6e68" opacity="0.9"/>
<rect x="144.6" y="302.4" width="5.0" height="1.4" fill="#6e6e68" opacity="0.9"/>
<rect x="144.6" y="306.4" width="5.0" height="1.4" fill="#6e6e68" opacity="0.9"/>
<rect x="144.2" y="312.0" width="5.8" height="8.0" fill="#0e0e0e"/>
<rect x="144.2" y="322.4" width="5.8" height="8.0" fill="#0e0e0e"/>
<rect x="143.8" y="333.6" width="7.0" height="13.8" fill="#4a4a46"/>
<rect x="145.2" y="335.6" width="4.4" height="9.8" fill="#8e8e88"/>
<rect x="146.2" y="337.0" width="2.4" height="7.0" fill="#3a3a38"/>
<rect x="138.6" y="338.0" width="1.0" height="5.0" fill="#8a8782" opacity="0.9"/>
<rect x="143.9" y="352.6" width="6.9" height="16.8" fill="#3c3c3a"/>
<rect x="145.3" y="355.0" width="4.3" height="12.0" fill="#9a9a94"/>
<rect x="146.3" y="357.0" width="2.3" height="8.0" fill="#2e2e2c"/>
<rect x="124.2" y="350.4" width="9.2" height="13.6" fill="#191919" rx="0.8"/>
<rect x="127.2" y="348.6" width="3.2" height="1.8" fill="#77746e"/>
<rect x="127.2" y="364.0" width="3.2" height="1.8" fill="#77746e"/>
<rect x="135.4" y="353.2" width="4.6" height="0.7" fill="#aaa69f" opacity="0.9"/>
<rect x="135.4" y="355.2" width="4.6" height="0.7" fill="#aaa69f" opacity="0.9"/>
<rect x="135.4" y="357.2" width="4.6" height="0.7" fill="#aaa69f" opacity="0.9"/>
<circle cx="135.8" cy="362.6" r="0.9" fill="#55524e"/>
<circle cx="135.6" cy="369.4" r="2" fill="#d8d5d0" stroke="#8a8782" stroke-width="0.8"/>
<rect x="123.4" y="366.6" width="0.8" height="3.0" fill="#77746e" opacity="0.8"/>
<rect x="100.8" y="371.4" width="18.2" height="7.6" fill="#ebe9e5"/>
<rect x="107.0" y="372.8" width="7.0" height="0.7" fill="#bdb9b3" opacity="0.9"/>
<rect x="107.0" y="374.4" width="9.0" height="0.7" fill="#bdb9b3" opacity="0.9"/>
<rect x="107.0" y="376.0" width="6.0" height="0.7" fill="#bdb9b3" opacity="0.9"/>
<rect x="107.0" y="377.6" width="8.0" height="0.7" fill="#bdb9b3" opacity="0.9"/>
<rect x="102.0" y="372.6" width="2.6" height="4.8" fill="#cfccc6" opacity="0.9"/>
<rect x="116.0" y="376.6" width="1.6" height="1.4" fill="#8d8a85" opacity="0.9"/>
<rect x="94.2" y="380.0" width="65.8" height="1.2" fill="#d3d0cb" opacity="0.9"/>
</g></g>
<g clip-path="url(#clR)"><g filter="url(#blur2)">
<path d="M480 255.6H549.6Q562 255.6 562 268V356Q562 367 551 367H480Z" fill="url(#dvR)"/>
<path d="M549.6 256.4Q561.2 256.4 561.2 268" fill="none" stroke="#f8f7f6" stroke-width="1.2"/>
<rect x="480" y="255.6" width="82" height="22" fill="url(#dvTop)"/>
<rect x="480.0" y="258.1" width="67.4" height="1.6" fill="#8f8b85"/>
<rect x="480.0" y="259.7" width="67.4" height="1.9" fill="#eae7e3" opacity="0.9"/>
<path d="M480 279.6H529.4Q536 279.6 536 286V381.4H480Z" fill="#f1efec"/>
<path d="M480 281.4H528.6Q534.2 281.4 534.2 287V380.4H480Z" fill="url(#dvI)"/>
<rect x="536.0" y="286.0" width="4.4" height="80.0" fill="#c6c1bb" opacity="0.5"/>
<rect x="480.0" y="285.2" width="50.6" height="1.8" fill="#827e78"/>
<rect x="480.0" y="288.0" width="24.8" height="92.4" fill="#e2dfda"/>
<rect x="504.8" y="288.0" width="1.0" height="92.4" fill="#c4bfb8"/>
<rect x="507.6" y="289.6" width="23.6" height="1.3" fill="#6f6c68" opacity="0.95"/>
<rect x="507.6" y="292.5" width="23.6" height="1.3" fill="#6f6c68" opacity="0.95"/>
<rect x="507.6" y="295.4" width="23.6" height="1.3" fill="#6f6c68" opacity="0.95"/>
<rect x="507.6" y="298.3" width="23.6" height="1.3" fill="#6f6c68" opacity="0.95"/>
<rect x="507.6" y="301.2" width="23.6" height="1.3" fill="#6f6c68" opacity="0.95"/>
<rect x="502.4" y="301.6" width="1.2" height="1.4" fill="#bdb9b2" opacity="0.9"/>
<rect x="507.6" y="302.6" width="23.4" height="0.6" fill="#c9c5bf" opacity="0.8"/>
<rect x="487.6" y="293.6" width="8.0" height="7.6" fill="#8a8882"/>
<rect x="488.4" y="295.0" width="6.4" height="0.8" fill="#d9d6d0" opacity="0.9"/>
<rect x="488.4" y="297.4" width="6.4" height="0.8" fill="#d9d6d0" opacity="0.9"/>
<rect x="488.4" y="299.6" width="6.4" height="0.8" fill="#d9d6d0" opacity="0.9"/>
<rect x="487.6" y="304.4" width="8.0" height="6.4" fill="#8a8882"/>
<rect x="488.4" y="305.6" width="6.4" height="0.8" fill="#d9d6d0" opacity="0.9"/>
<rect x="488.4" y="307.8" width="6.4" height="0.8" fill="#d9d6d0" opacity="0.9"/>
<rect x="496.6" y="296.6" width="1.4" height="1.4" fill="#9a968f" opacity="0.8"/>
<circle cx="489.9" cy="317.5" r="1.5" fill="#141414"/>
<circle cx="489.9" cy="323.3" r="1.5" fill="#141414"/>
<rect x="488.2" y="327.2" width="6.6" height="5.4" fill="#151515" rx="0.5"/>
<rect x="488.4" y="334.4" width="7.2" height="13.8" fill="#8e8c86"/>
<rect x="489.8" y="336.4" width="4.4" height="10.0" fill="#5c5a56"/>
<rect x="490.8" y="338.0" width="2.4" height="7.0" fill="#a3a19a"/>
<rect x="489.2" y="352.6" width="6.6" height="16.8" fill="#4a4946"/>
<rect x="490.6" y="355.0" width="4.0" height="12.0" fill="#a09e98"/>
<rect x="491.4" y="357.0" width="2.2" height="8.0" fill="#33322f"/>
<rect x="501.0" y="366.0" width="0.8" height="3.0" fill="#8d8a85" opacity="0.7"/>
<rect x="507.6" y="371.6" width="9.0" height="0.9" fill="#d3d0cb" opacity="0.95"/>
<rect x="507.6" y="373.8" width="9.0" height="0.9" fill="#d3d0cb" opacity="0.95"/>
<rect x="507.6" y="376.0" width="9.0" height="0.9" fill="#d3d0cb" opacity="0.95"/>
<rect x="521.0" y="372.0" width="0.8" height="5.0" fill="#cfccc6" opacity="0.9"/>
<rect x="526.6" y="372.0" width="0.8" height="5.0" fill="#cfccc6" opacity="0.9"/>
<circle cx="524.2" cy="374.8" r="0.8" fill="#a8a49d"/>
<rect x="520.0" y="370.6" width="16.0" height="0.6" fill="#dcd9d4" opacity="0.9"/>
<rect x="480.0" y="379.6" width="25.0" height="1.2" fill="#77746f" opacity="0.9"/>
<rect x="505.0" y="380.0" width="29.0" height="1.2" fill="#cfccc6" opacity="0.9"/>
</g></g><g filter="url(#blur2)">
<path d="M531.4 417.4C526.4 417.4 522.6 420.6 522.6 424.6C522.6 426.9 523.9 428.9 525.9 430.2L525.0 433.0L528.2 431.3C529.2 431.6 530.3 431.8 531.4 431.8C536.4 431.8 540.2 428.6 540.2 424.6C540.2 420.6 536.4 417.4 531.4 417.4Z" fill="#fff" stroke="#c2c2c2" stroke-width="1.2"/>
<path d="M543.2 420.6C537.6 420.6 533.2 424.3 533.2 428.9C533.2 433.5 537.6 437.2 543.2 437.2C544.4 437.2 545.6 437 546.7 436.7L550.2 438.6L549.2 435.5C551.6 434 553.2 431.6 553.2 428.9C553.2 424.3 548.8 420.6 543.2 420.6Z" fill="#fff" stroke="#bcbcbc" stroke-width="1.2"/>
<circle cx="528.4" cy="419.2" r="0.9" fill="#c9c9c9"/><circle cx="534.6" cy="419.2" r="0.9" fill="#c9c9c9"/>
<circle cx="539.8" cy="426.2" r="0.9" fill="#c4c4c4"/><circle cx="546.6" cy="426.2" r="0.9" fill="#c4c4c4"/>
</g>
<g fill="#ececec">
<rect x="3" y="454.6" width="4" height="2.4"/>
<rect x="11" y="454.6" width="3" height="2.4"/>
<rect x="30" y="454.6" width="4" height="2.4"/>
<rect x="44" y="454.6" width="9" height="2.4"/>
<rect x="66" y="454.6" width="10" height="2.4"/>
</g>
</svg>
<h1 class="t" style="left:25px;top:27px;font-size:26.67px;font-weight:normal;color:#000">监护及“云”平台一体化设计，双核双网</h1>
<div class="t" style="left:271px;top:108px;font-size:18px;font-weight:bold;color:#2a1a06">监护仪电源</div>
<div class="t" style="left:24px;top:177px;font-size:14.67px;font-weight:bold;color:#000">中央站网络</div>
<div class="t" style="left:145px;top:188px;font-size:18px;font-weight:bold;color:#f4f8ff;text-shadow:0.4px 0.6px 0.8px rgba(0,0,0,0.32)">监护仪</div>
<div class="t" style="left:422px;top:188px;font-size:18px;font-weight:bold;color:#fff6dc;text-shadow:0.4px 0.6px 0.8px rgba(0,0,0,0.32)">“云”平台</div>
<div class="t" style="left:544px;top:180.5px;font-size:14.67px;font-weight:bold;color:#000">院内网/互联网</div>
<div class="t" style="left:270px;top:244px;font-size:18px;font-weight:bold;color:#251503">影像混屏技术</div>
<div class="t" style="left:559px;top:417px;font-size:20px;font-weight:bold;color:#cecece;text-shadow:-0.7px -0.7px 0 #fff;font-family:'Liberation Sans','Noto Sans CJK SC',sans-serif">器械科</div>
<!--nums-->
<span class="t n" style="left:381px;top:329px;font-size:14.2px;color:#35dd5c">60</span>
<span class="t n" style="left:407px;top:333px;font-size:5.4px;color:#9a9a9a;transform:scaleX(.75)">60</span>
<span class="t n" style="left:380px;top:356px;font-size:11.3px;color:#e45a64">120/70</span>
<span class="t n" style="left:409px;top:361px;font-size:5.2px;color:#d05058">(91)</span>
<span class="t n" style="left:380px;top:368px;font-size:11.3px;color:#dc2230">120/70</span>
<span class="t n" style="left:409px;top:373px;font-size:5.2px;color:#b02028">(91)</span>
<span class="t n" style="left:381px;top:379px;font-size:13.0px;color:#e26fe2">95</span>
<span class="t n" style="left:407px;top:382px;font-size:8.4px;color:#4456e6">(9)</span>
<span class="t n" style="left:382px;top:395px;font-size:5.0px;color:#c9c955">28/15</span>
<span class="t n" style="left:382px;top:399px;font-size:4.6px;color:#c9c955">11</span>
<span class="t n" style="left:407px;top:395px;font-size:5.2px;color:#c044c8;transform:scaleX(.75)">OFF</span>
<span class="t n" style="left:407px;top:400px;font-size:4.0px;color:#8a3a90">(8)</span>
<span class="t n" style="left:307px;top:406px;font-size:14.6px;color:#f2a324;transform:scaleX(.65)">120/80</span>
<span class="t n" style="left:342px;top:410px;font-size:9.4px;color:#e8a024;transform:scaleX(.66)">(91)</span>
<span class="t n" style="left:366px;top:407px;font-size:8.2px;color:#d8d458">50</span>
<span class="t n" style="left:369px;top:414px;font-size:8.0px;color:#d8d458">0</span>
<span class="t n" style="left:382px;top:407px;font-size:8.2px;color:#d8d458">40</span>
<span class="t n" style="left:382px;top:414px;font-size:8.0px;color:#d8d458">20</span>
<span class="t n" style="left:407px;top:414px;font-size:7.4px;color:#35b59a">37.0</span>
<span class="t n" style="left:623px;top:450px;font-size:6.4px;color:#222;transform:scaleX(.85)">7</span>

</body></html>
